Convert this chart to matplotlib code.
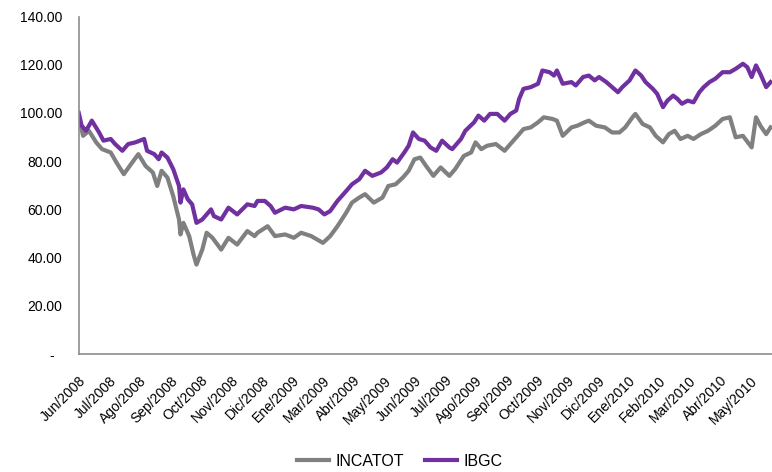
import matplotlib
matplotlib.use("Agg")
import matplotlib.pyplot as plt
from matplotlib.ticker import FuncFormatter

plt.rcParams['font.family'] = ['Liberation Sans', 'DejaVu Sans']

# trading-day index and index values (base 100 = Jun/2008)
ibgc_day = [0, 2, 5, 9, 14, 17, 22, 25, 30, 34, 39, 45, 47, 52, 55, 57, 61, 65, 69, 70,
            72, 75, 78, 81, 85, 91, 93, 98, 103, 109, 116, 121, 123, 128, 132, 135, 142, 148, 153, 161,
            165, 169, 173, 178, 184, 188, 193, 197, 202, 208, 212, 216, 219, 224, 227, 230, 234, 238, 242, 246,
            250, 255, 257, 263, 266, 272, 275, 279, 283, 288, 293, 297, 301, 303, 306, 311, 316, 319, 324, 327,
            329, 333, 339, 342, 347, 351, 355, 358, 363, 367, 371, 374, 379, 383, 387, 390, 395, 398, 402, 405,
            409, 412, 415, 419, 423, 427, 430, 434, 438, 443, 448, 452, 457, 460, 463, 466, 469, 473, 476]
ibgc_val = [100, 94.7, 92.6, 96.8, 91.9, 88.5, 89.2, 87.1, 84.3, 87.1, 87.8, 89.2, 84.3, 82.9, 80.8, 83.6, 81.5, 76.7, 69.7, 62.8,
            68.3, 64.2, 62.1, 54.4, 55.8, 60.0, 57.2, 55.8, 60.7, 57.9, 62.1, 61.4, 63.5, 63.5, 61.4, 58.6, 60.7, 60.0, 61.4, 60.7,
            60.0, 57.9, 59.3, 63.5, 67.6, 70.4, 72.5, 76.0, 73.9, 75.3, 77.4, 80.8, 79.4, 83.6, 86.4, 91.9, 89.2, 88.5, 85.7, 84.3,
            88.5, 85.7, 85.0, 89.2, 92.6, 96.1, 98.9, 96.8, 99.6, 99.6, 96.8, 99.6, 101.0, 105.8, 110.0, 110.7, 112.1, 117.6, 116.9, 115.5,
            117.6, 112.1, 112.8, 111.4, 114.9, 115.5, 113.5, 114.9, 112.8, 110.7, 108.6, 110.7, 113.5, 117.6, 115.5, 112.8, 110.0, 107.9, 102.4, 105.1,
            107.2, 105.8, 103.8, 105.1, 104.4, 108.6, 110.7, 112.8, 114.2, 116.9, 116.9, 118.3, 120.4, 119.0, 114.9, 119.7, 116.2, 110.7, 112.8]

incatot_day = [0, 3, 7, 12, 16, 22, 26, 31, 36, 41, 46, 51, 54, 57, 61, 65, 69, 70, 72, 76,
               79, 81, 85, 88, 92, 98, 103, 109, 116, 121, 123, 130, 135, 142, 148, 153, 160, 168, 173, 178,
               184, 188, 193, 197, 203, 209, 213, 218, 223, 227, 231, 235, 239, 244, 249, 255, 259, 265, 270, 273,
               277, 281, 287, 293, 297, 302, 306, 311, 316, 320, 326, 329, 333, 339, 343, 348, 351, 356, 362, 367,
               372, 376, 381, 383, 388, 393, 397, 402, 406, 410, 414, 419, 423, 428, 433, 438, 443, 448, 452, 457,
               463, 466, 469, 473, 476]
incatot_val = [98, 90.5, 92.6, 87.8, 85.0, 83.6, 79.4, 74.6, 78.8, 82.9, 78.0, 75.3, 69.7, 76.0, 73.2, 65.5, 55.8, 49.6, 54.4, 48.9,
               41.2, 37.1, 43.3, 50.3, 48.2, 43.3, 48.2, 45.4, 51.0, 48.9, 50.3, 53.0, 48.9, 49.6, 48.2, 50.3, 48.9, 46.1, 48.9, 53.0,
               58.6, 62.8, 64.9, 66.3, 62.8, 64.9, 69.7, 70.4, 73.2, 76.0, 80.8, 81.5, 78.0, 73.9, 77.4, 73.9, 76.7, 82.2, 83.6, 87.8,
               85.0, 86.4, 87.1, 84.3, 87.1, 90.5, 93.3, 94.0, 96.1, 98.2, 97.5, 96.8, 90.5, 94.0, 94.7, 96.1, 96.8, 94.7, 94.0, 91.9,
               91.9, 94.0, 98.2, 99.6, 95.4, 94.0, 90.5, 87.8, 91.2, 92.6, 89.2, 90.5, 89.2, 91.2, 92.6, 94.7, 97.5, 98.2, 89.9, 90.5,
               85.7, 98.2, 94.7, 91.2, 94.0]

month_labels = ['Jun/2008', 'Jul/2008', 'Ago/2008', 'Sep/2008', 'Oct/2008', 'Nov/2008', 'Dic/2008',
                'Ene/2009', 'Mar/2009', 'Abr/2009', 'May/2009', 'Jun/2009', 'Jul/2009', 'Ago/2009',
                'Sep/2009', 'Oct/2009', 'Nov/2009', 'Dic/2009', 'Ene/2010', 'Feb/2010', 'Mar/2010',
                'Abr/2010', 'May/2010']
label_step = 21  # one label every 21 trading days

fig = plt.figure(figsize=(7.72, 4.72), dpi=100)
ax = fig.add_axes([0.102, 0.25, 0.898, 0.715])

ax.plot(incatot_day, incatot_val, color='#808080', lw=3, label='INCATOT', solid_joinstyle='round')
ax.plot(ibgc_day, ibgc_val, color='#7030A0', lw=3, label='IBGC', solid_joinstyle='round')

ax.set_ylim(0, 140)
ax.set_yticks(range(0, 141, 20))
ax.yaxis.set_major_formatter(FuncFormatter(lambda v, p: '-  ' if v == 0 else '%.2f' % v))
ax.set_xlim(0, 477)
ax.set_xticks([i * label_step for i in range(len(month_labels))])
ax.set_xticklabels(month_labels, rotation=45, ha='right', va='top', rotation_mode='anchor')

ax.tick_params(axis='y', length=0, pad=12, labelsize=10)
ax.tick_params(axis='x', length=0, pad=14, labelsize=10)

for s in ['top', 'right']:
    ax.spines[s].set_visible(False)
for s in ['left', 'bottom']:
    ax.spines[s].set_color('#8c8c8c')
    ax.spines[s].set_linewidth(1.2)

fig.legend(loc='center', bbox_to_anchor=(0.518, 0.023), ncol=2, frameon=False,
           fontsize=11.5, handlelength=2, handletextpad=0.4, columnspacing=1.3)

plt.savefig('out.png', dpi=100)
